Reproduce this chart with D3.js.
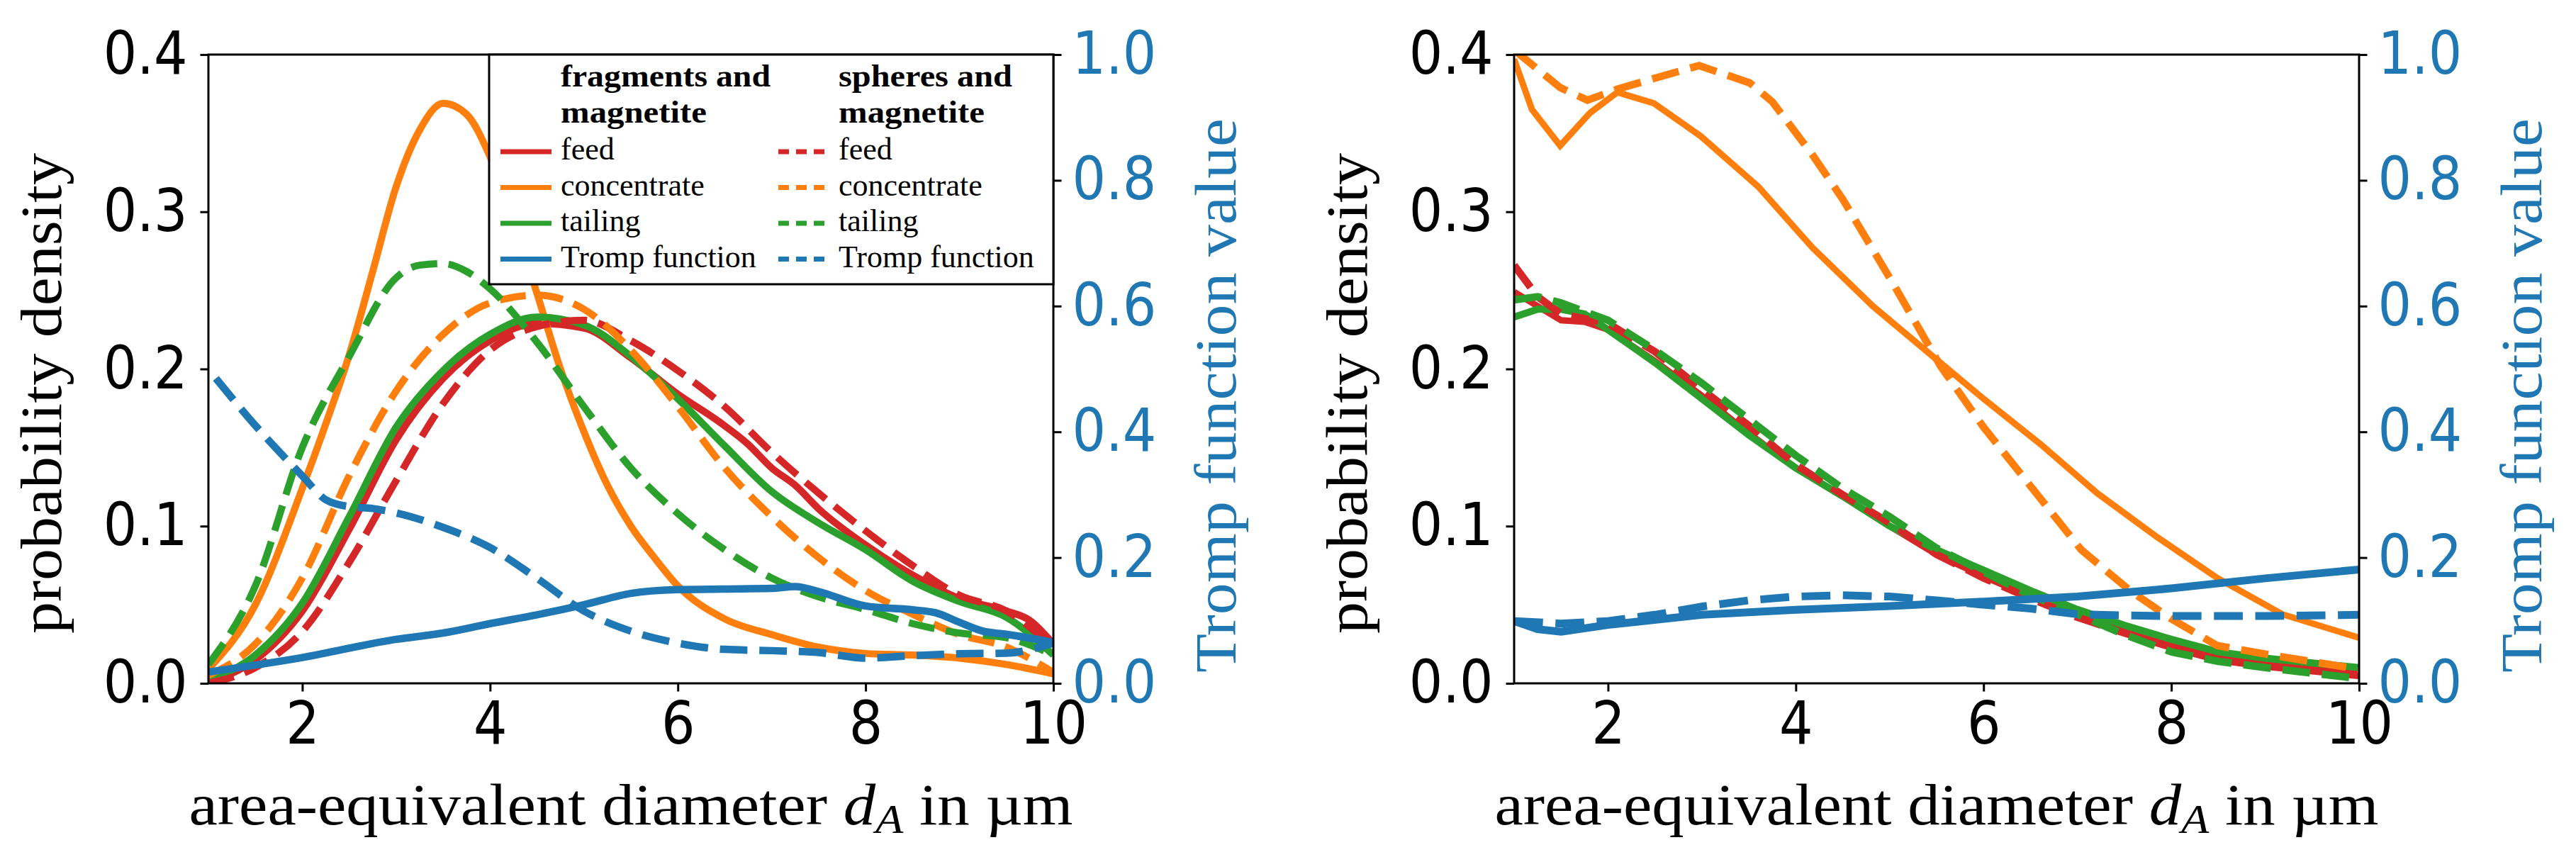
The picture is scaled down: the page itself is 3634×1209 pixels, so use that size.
<!DOCTYPE html>
<html>
<head>
<meta charset="utf-8">
<script src="https://cdn.jsdelivr.net/npm/d3@7"></script>
<style>
  body { margin: 0; background: #ffffff; }
  .tick text { font-family: "DejaVu Sans", sans-serif; font-stretch: condensed; font-size: 83px; }
  .tick line { stroke: #000000; stroke-width: 3; }
  .lab { font-family: "Liberation Serif", "DejaVu Serif", serif; font-size: 82px; }
  .leg { font-family: "Liberation Serif", "DejaVu Serif", serif; font-size: 44px; }
</style>
</head>
<body>
<svg id="chart"></svg>
<script>
// DATA : LEFT PANEL (x in um, probability density / Tromp value)
var xTicks = [2, 4, 6, 8, 10];
var yTicks = [0, 0.1, 0.2, 0.3, 0.4];
var tTicks = [0, 0.2, 0.4, 0.6, 0.8, 1.0];
var seriesNames = ["feed", "concentrate", "tailing", "Tromp function"];
var groupNames = [["fragments and", "magnetite"], ["spheres and", "magnetite"]];

var leftFragFeed = [[1,0.001],[1.5,0.015],[2,0.046],[2.5,0.098],[3,0.155],[3.5,0.194],[4,0.218],[4.5,0.229],[5,0.226],[5.5,0.207],[6,0.184],[6.45,0.166],[6.75,0.152],[7,0.137],[7.25,0.126],[7.5,0.111],[8,0.088],[8.5,0.069],[9,0.054],[9.5,0.046],[9.75,0.040],[10,0.025]];
var leftFragConc = [[1,0.009],[1.5,0.05],[2,0.124],[2.25,0.165],[2.5,0.209],[2.75,0.262],[3,0.316],[3.25,0.352],[3.5,0.369],[3.75,0.362],[4,0.335],[4.25,0.295],[4.5,0.248],[4.75,0.2],[5,0.16],[5.25,0.126],[5.5,0.1],[5.75,0.08],[6,0.062],[6.5,0.041],[7,0.031],[7.5,0.023],[8,0.019],[8.5,0.018],[9,0.016],[9.5,0.012],[10,0.006]];
var leftFragTail = [[1,0.002],[1.5,0.018],[2,0.051],[2.5,0.106],[3,0.163],[3.5,0.199],[4,0.222],[4.5,0.233],[5,0.228],[5.5,0.208],[6,0.181],[6.5,0.151],[7,0.122],[7.5,0.102],[8,0.085],[8.5,0.065],[9,0.052],[9.5,0.042],[10,0.018]];
var leftSphFeed = [[1,0.0],[1.5,0.01],[2,0.033],[2.5,0.077],[3,0.129],[3.5,0.178],[4,0.212],[4.5,0.227],[5,0.231],[5.5,0.218],[6,0.199],[6.5,0.176],[7,0.147],[7.5,0.121],[8,0.097],[8.5,0.075],[9,0.056],[9.5,0.046],[10,0.023]];
var leftSphConc = [[1,0.005],[1.5,0.025],[2,0.067],[2.5,0.132],[3,0.186],[3.5,0.222],[4,0.242],[4.5,0.247],[5,0.238],[5.5,0.212],[6,0.176],[6.5,0.137],[7,0.106],[7.5,0.08],[8,0.059],[8.5,0.044],[9,0.031],[9.5,0.023],[10,0.007]];
var leftSphTail = [[1,0.012],[1.5,0.062],[2,0.15],[2.5,0.208],[3,0.258],[3.25,0.266],[3.5,0.267],[3.75,0.262],[4,0.251],[4.5,0.217],[5,0.176],[5.5,0.137],[6,0.108],[6.5,0.085],[7,0.067],[7.5,0.055],[8,0.047],[8.5,0.038],[9,0.032],[9.5,0.029],[10,0.018]];
var leftFragTromp = [[1,0.018],[2,0.041],[3,0.07],[3.5,0.08],[4,0.095],[4.5,0.109],[5,0.125],[5.5,0.143],[6,0.149],[6.5,0.150],[7,0.151],[7.25,0.154],[7.5,0.146],[8,0.123],[8.5,0.117],[8.75,0.112],[9,0.097],[9.25,0.083],[9.5,0.078],[10,0.065]];
var leftSphTromp = [[1.08,0.485],[1.5,0.41],[2,0.33],[2.25,0.292],[2.5,0.281],[2.75,0.278],[3,0.271],[3.5,0.248],[4,0.216],[4.5,0.167],[5,0.115],[5.5,0.083],[6,0.064],[6.5,0.054],[7,0.052],[7.5,0.049],[8,0.040],[8.5,0.044],[9,0.047],[9.5,0.048],[10,0.064]];

// DATA : RIGHT PANEL
var rightFragFeed = [[1,0.249],[1.25,0.24],[1.5,0.231],[1.75,0.23],[2,0.225],[2.5,0.205],[3,0.183],[3.5,0.159],[4,0.137],[4.5,0.119],[5,0.1],[5.5,0.082],[6,0.068],[6.5,0.055],[7,0.044],[7.5,0.033],[8,0.024],[8.5,0.016],[9,0.012],[10,0.006]];
var rightFragConc = [[1,0.397],[1.19,0.365],[1.49,0.342],[1.81,0.363],[2.1,0.376],[2.49,0.369],[2.99,0.348],[3.6,0.316],[4.18,0.277],[4.82,0.24],[5.48,0.207],[6,0.181],[6.61,0.152],[7.21,0.121],[7.85,0.093],[8.49,0.067],[9.18,0.044],[10,0.029]];
var rightFragTail = [[1,0.233],[1.25,0.238],[1.5,0.238],[1.75,0.235],[2,0.225],[2.5,0.204],[3,0.181],[3.5,0.158],[4,0.137],[4.5,0.119],[5,0.1],[5.5,0.085],[6,0.072],[6.5,0.059],[7,0.047],[7.5,0.037],[8,0.028],[8.5,0.02],[9,0.016],[10,0.01]];
var rightSphFeed = [[1,0.266],[1.25,0.246],[1.5,0.235],[2,0.229],[2.5,0.211],[3,0.187],[3.5,0.164],[4,0.139],[4.5,0.12],[5,0.102],[5.5,0.082],[6,0.067],[6.5,0.054],[7,0.042],[7.5,0.032],[8,0.023],[8.5,0.015],[9,0.011],[10,0.005]];
var rightSphConc = [[1,0.403],[1.49,0.379],[1.78,0.371],[2.1,0.378],[2.5,0.385],[2.97,0.393],[3.51,0.382],[3.75,0.37],[4.18,0.336],[4.5,0.308],[5.02,0.256],[5.54,0.202],[6,0.163],[6.52,0.124],[7.04,0.085],[7.56,0.059],[8,0.041],[8.49,0.024],[9.06,0.018],[10,0.009]];
var rightSphTail = [[1,0.244],[1.25,0.246],[1.5,0.242],[2,0.231],[2.5,0.212],[3,0.191],[3.5,0.168],[4,0.145],[4.5,0.124],[5,0.106],[5.5,0.086],[6,0.071],[6.5,0.056],[7,0.044],[7.5,0.031],[8,0.02],[8.5,0.014],[9,0.01],[10,0.003]];
var rightFragTromp = [[1,0.099],[1.25,0.086],[1.5,0.082],[2,0.093],[3,0.109],[4,0.117],[5,0.123],[6,0.13],[7,0.138],[8,0.151],[9,0.167],[10,0.181]];
var rightSphTromp = [[1,0.099],[1.5,0.095],[2,0.099],[2.5,0.109],[3,0.122],[3.5,0.132],[4,0.138],[4.5,0.14],[5,0.138],[5.5,0.132],[6,0.125],[6.5,0.119],[7,0.11],[7.5,0.108],[8,0.107],[9,0.107],[10,0.109]];

// DEFINE DRAWING AREA SIZING
var totalW = 3634, totalH = 1209;
var plotW = 1192, plotTop = 77, plotBottom = 964;
var panelLeft = [294, 2136];
var colors = {feed: "#d62728", concentrate: "#ff7f0e", tailing: "#2ca02c", tromp: "#1f77b4"};

var svg = d3.select("#chart")
  .attr("width", totalW)
  .attr("height", totalH)
  .attr("viewBox", "0 0 " + totalW + " " + totalH);

var panels = [
  { left: panelLeft[0], curve: d3.curveMonotoneX, solidW: 10, dashW: 10, trompW: 10.5, legend: true,
    lines: [
      {d: leftFragFeed, c: colors.feed, dash: false, ax: "y"},
      {d: leftFragConc, c: colors.concentrate, dash: false, ax: "y"},
      {d: leftFragTail, c: colors.tailing, dash: false, ax: "y"},
      {d: leftSphFeed, c: colors.feed, dash: true, ax: "y"},
      {d: leftSphConc, c: colors.concentrate, dash: true, ax: "y"},
      {d: leftSphTail, c: colors.tailing, dash: true, ax: "y"},
      {d: leftFragTromp, c: colors.tromp, dash: false, ax: "t"},
      {d: leftSphTromp, c: colors.tromp, dash: true, ax: "t"}
    ]},
  { left: panelLeft[1], curve: d3.curveLinear, solidW: 9, dashW: 10.5, trompW: 11, legend: false,
    lines: [
      {d: rightFragFeed, c: colors.feed, dash: false, ax: "y"},
      {d: rightFragConc, c: colors.concentrate, dash: false, ax: "y"},
      {d: rightFragTail, c: colors.tailing, dash: false, ax: "y", w: 10},
      {d: rightSphFeed, c: colors.feed, dash: true, ax: "y"},
      {d: rightSphConc, c: colors.concentrate, dash: true, ax: "y"},
      {d: rightSphTail, c: colors.tailing, dash: true, ax: "y"},
      {d: rightFragTromp, c: colors.tromp, dash: false, ax: "t"},
      {d: rightSphTromp, c: colors.tromp, dash: true, ax: "t"}
    ]}
];

panels.forEach(function(p, i) {
  var x = d3.scaleLinear().domain([1, 10]).range([p.left, p.left + plotW]);
  var y = d3.scaleLinear().domain([0, 0.4]).range([plotBottom, plotTop]);
  var t = d3.scaleLinear().domain([0, 1]).range([plotBottom, plotTop]);

  // CLIP
  svg.append("clipPath").attr("id", "clip" + i)
    .append("rect")
    .attr("x", p.left).attr("y", plotTop)
    .attr("width", plotW).attr("height", plotBottom - plotTop);

  // LINES
  var g = svg.append("g").attr("clip-path", "url(#clip" + i + ")");
  p.lines.forEach(function(l) {
    var sc = l.ax == "t" ? t : y;
    var w = l.ax == "t" ? p.trompW : (l.dash ? p.dashW : (l.w || p.solidW));
    var line = d3.line()
      .curve(p.curve)
      .x(function(d) { return x(d[0]); })
      .y(function(d) { return sc(d[1]); });
    g.append("path")
      .attr("d", line(l.d))
      .attr("fill", "none")
      .attr("stroke", l.c)
      .attr("stroke-width", w)
      .attr("stroke-dasharray", l.dash ? (3.7 * w) + "," + (1.6 * w) : null);
  });

  // AXES
  var xAxis = svg.append("g")
    .attr("transform", "translate(0," + plotBottom + ")")
    .call(d3.axisBottom(x).tickValues(xTicks).tickFormat(d3.format("d")).tickSize(11.5).tickPadding(14.5).tickSizeOuter(0));
  var yAxis = svg.append("g")
    .attr("transform", "translate(" + p.left + ",0)")
    .call(d3.axisLeft(y).tickValues(yTicks).tickFormat(d3.format(".1f")).tickSize(11.5).tickPadding(18).tickSizeOuter(0));
  var tAxis = svg.append("g")
    .attr("transform", "translate(" + (p.left + plotW) + ",0)")
    .call(d3.axisRight(t).tickValues(tTicks).tickFormat(d3.format(".1f")).tickSize(11.5).tickPadding(15).tickSizeOuter(0));
  [xAxis, yAxis, tAxis].forEach(function(a) {
    a.select(".domain").remove();
    a.attr("font-family", null).attr("font-size", null);
    a.selectAll("text").attr("fill", "#000000");
  });
  tAxis.selectAll("text").attr("fill", colors.tromp);

  // FRAME
  svg.append("rect")
    .attr("x", p.left).attr("y", plotTop)
    .attr("width", plotW).attr("height", plotBottom - plotTop)
    .attr("fill", "none").attr("stroke", "#000000").attr("stroke-width", 3);

  // AXIS LABELS
  var xl = svg.append("text")
    .attr("class", "lab")
    .attr("x", p.left + plotW / 2)
    .attr("y", 1163)
    .attr("text-anchor", "middle")
    .attr("textLength", 1247)
    .attr("lengthAdjust", "spacingAndGlyphs");
  xl.append("tspan").text("area-equivalent diameter ");
  xl.append("tspan").attr("font-style", "italic").text("d");
  xl.append("tspan").attr("font-style", "italic").attr("font-size", "58px").attr("dy", 12).text("A");
  xl.append("tspan").attr("dy", -12).text(" in \u00b5m");

  svg.append("text")
    .attr("class", "lab")
    .attr("transform", "translate(" + (p.left - 208) + ",555) rotate(-90)")
    .attr("text-anchor", "middle")
    .attr("textLength", 678)
    .attr("lengthAdjust", "spacingAndGlyphs")
    .text("probability density");

  svg.append("text")
    .attr("class", "lab")
    .attr("transform", "translate(" + (p.left + 1449) + ",558) rotate(-90)")
    .attr("text-anchor", "middle")
    .attr("fill", colors.tromp)
    .attr("textLength", 782)
    .attr("lengthAdjust", "spacingAndGlyphs")
    .text("Tromp function value");

  // LEGEND
  if (p.legend) {
    var lg = svg.append("g");
    lg.append("rect")
      .attr("x", 690).attr("y", plotTop)
      .attr("width", p.left + plotW - 690).attr("height", 401 - plotTop)
      .attr("fill", "#ffffff").attr("stroke", "#000000").attr("stroke-width", 3);
    var colX = [706, 1098];
    var textX = [791, 1183];
    var headW = [[296, 206], [245, 206]];
    groupNames.forEach(function(gn, c) {
      gn.forEach(function(h, k) {
        lg.append("text")
          .attr("class", "leg")
          .attr("x", textX[c]).attr("y", 122 + k * 51)
          .attr("font-weight", "bold")
          .attr("textLength", headW[c][k])
          .attr("lengthAdjust", "spacingAndGlyphs")
          .text(h);
      });
      seriesNames.forEach(function(s, k) {
        var yy = 225 + k * 50.5;
        var col = [colors.feed, colors.concentrate, colors.tailing, colors.tromp][k];
        lg.append("line")
          .attr("x1", colX[c]).attr("x2", colX[c] + 72)
          .attr("y1", yy - 11).attr("y2", yy - 11)
          .attr("stroke", col).attr("stroke-width", 7)
          .attr("stroke-dasharray", c == 1 ? "15,10" : null);
        lg.append("text")
          .attr("class", "leg")
          .attr("x", textX[c]).attr("y", yy)
          .text(s);
      });
    });
  }
});
</script>
</body>
</html>
